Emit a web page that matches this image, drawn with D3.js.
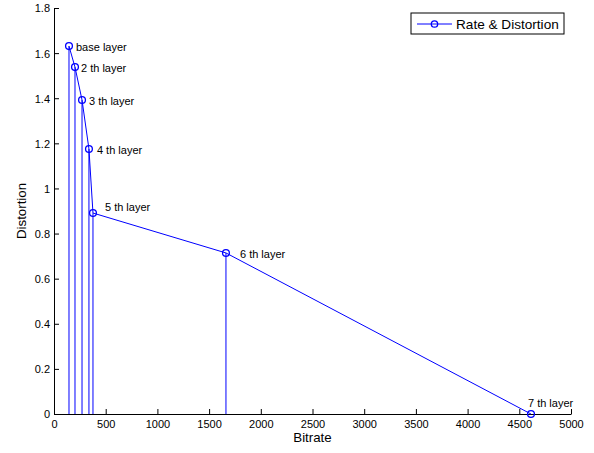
<!DOCTYPE html>
<html>
<head>
<meta charset="utf-8">
<script src="https://cdn.jsdelivr.net/npm/d3@7"></script>
<style>
  body { margin: 0; background: #fff; }
  svg { display: block; font-family: "Liberation Sans", Arial, sans-serif; }
</style>
</head>
<body>
<div id="chart"></div>
<script>
// layer rate / distortion points
var layers = ['base layer', '2 th layer', '3 th layer', '4 th layer', '5 th layer', '6 th layer', '7 th layer'];
var bitrate = [145, 203, 271, 338, 377, 1663, 4613];
var distortion = [1.631, 1.538, 1.392, 1.175, 0.891, 0.714, 0];
var xTicks = [0, 500, 1000, 1500, 2000, 2500, 3000, 3500, 4000, 4500, 5000];
var yTicks = [0, 0.2, 0.4, 0.6, 0.8, 1, 1.2, 1.4, 1.6, 1.8];
var seriesName = 'Rate & Distortion';

// label offsets in px from the marker (like the text() calls in the original)
var labelOffsets = [[7, 1], [6, 1], [7, 1], [8, 1], [12, -6], [14, 1], [-3, -11]];

var width = 594,
    height = 453,
    margin = {top: 8, right: 23, bottom: 39, left: 54};

var svg = d3.select('#chart')
  .append('svg')
  .attr('width', width)
  .attr('height', height);

var x = d3.scaleLinear().domain([0, 5000]).range([margin.left, width - margin.right]);
var y = d3.scaleLinear().domain([0, 1.8]).range([height - margin.bottom, margin.top]);

var blue = '#0000ff';
var pts = bitrate.map((b, i) => ({x: b, y: distortion[i], name: layers[i]}));

// stems down to zero
svg.append('g')
  .selectAll('line')
  .data(pts.filter(d => d.y > 0))
  .enter().append('line')
  .attr('x1', d => x(d.x))
  .attr('x2', d => x(d.x))
  .attr('y1', d => y(d.y))
  .attr('y2', y(0))
  .attr('stroke', blue)
  .attr('stroke-width', 1);

// axes (ticks pointing in, matlab style)
var xAxis = d3.axisBottom(x).tickValues(xTicks).tickFormat(d3.format('d'))
  .tickSizeInner(-5).tickSizeOuter(0).tickPadding(6);
var yAxis = d3.axisLeft(y).tickValues(yTicks).tickFormat(d => d3.format('')(+d.toFixed(1)))
  .tickSizeInner(-5).tickSizeOuter(0).tickPadding(4);

var gx = svg.append('g')
  .attr('transform', `translate(0,${y(0)})`)
  .call(xAxis);
var gy = svg.append('g')
  .attr('transform', `translate(${x(0)},0)`)
  .call(yAxis);

[gx, gy].forEach(g => {
  g.attr('font-family', null).attr('font-size', null);
  g.selectAll('text').attr('font-size', '11px').attr('fill', '#000');
  g.selectAll('line, path').attr('stroke', '#000');
});
gy.selectAll('text').attr('dy', '0.36em');

// the rate-distortion line
var line = d3.line().x(d => x(d.x)).y(d => y(d.y));
svg.append('path')
  .datum(pts)
  .attr('d', line)
  .attr('fill', 'none')
  .attr('stroke', blue)
  .attr('stroke-width', 1);

svg.append('g')
  .selectAll('circle')
  .data(pts)
  .enter().append('circle')
  .attr('cx', d => x(d.x))
  .attr('cy', d => y(d.y))
  .attr('r', 3.4)
  .attr('fill', 'none')
  .attr('stroke', blue)
  .attr('stroke-width', 1.3);

svg.append('g')
  .selectAll('text')
  .data(pts)
  .enter().append('text')
  .attr('x', (d, i) => x(d.x) + labelOffsets[i][0])
  .attr('y', (d, i) => y(d.y) + labelOffsets[i][1])
  .attr('dy', '0.35em')
  .attr('font-size', '11px')
  .attr('fill', '#000')
  .text(d => d.name);

// axis titles
svg.append('text')
  .attr('x', (x(0) + x(5000)) / 2)
  .attr('y', 442)
  .attr('text-anchor', 'middle')
  .attr('font-size', '13.3px')
  .text('Bitrate');

svg.append('text')
  .attr('transform', `translate(26,${(y(0) + y(1.8)) / 2}) rotate(-90)`)
  .attr('text-anchor', 'middle')
  .attr('font-size', '13.3px')
  .text('Distortion');

// legend
var lg = svg.append('g').attr('transform', 'translate(411,13)');
lg.append('rect')
  .attr('width', 153).attr('height', 21)
  .attr('fill', '#fff').attr('stroke', '#000').attr('stroke-width', 1);
lg.append('line')
  .attr('x1', 6).attr('x2', 41).attr('y1', 11).attr('y2', 11)
  .attr('stroke', blue).attr('stroke-width', 1);
lg.append('circle')
  .attr('cx', 23.5).attr('cy', 11).attr('r', 3.2)
  .attr('fill', 'none').attr('stroke', blue).attr('stroke-width', 1.3);
lg.append('text')
  .attr('x', 45).attr('y', 11).attr('dy', '0.35em')
  .attr('font-size', '13.6px')
  .text(seriesName);
</script>
</body>
</html>
